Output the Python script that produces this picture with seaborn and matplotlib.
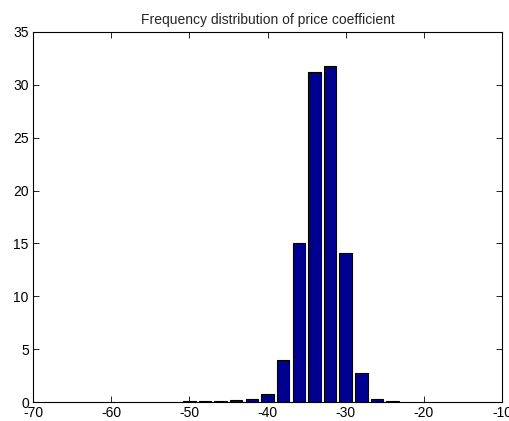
import matplotlib
matplotlib.use("Agg")
import matplotlib.pyplot as plt
import seaborn as sns
import pandas as pd

# Data
bin_centers = [-50, -48, -46, -44, -42, -40, -38, -36, -34, -32, -30, -28, -26, -24]
frequencies = [0.1, 0.1, 0.1, 0.2, 0.3, 0.8, 4.0, 15.0, 31.2, 31.8, 14.1, 2.7, 0.3, 0.1]
x_ticks = [-70, -60, -50, -40, -30, -20, -10]
y_ticks = [0, 5, 10, 15, 20, 25, 30, 35]
title = "Frequency distribution of price coefficient"

sns.set_style("white")
plt.rcParams['font.family'] = ['Liberation Sans', 'DejaVu Sans']

df = pd.DataFrame({"center": bin_centers, "freq": frequencies})

fig = plt.figure(figsize=(5.09, 4.21), dpi=100)
ax = fig.add_axes([33/509, 1 - 402/421, (502-33)/509, (402-32)/421])

sns.barplot(data=df, x="center", y="freq", native_scale=True, orient="x",
            width=0.8, color="#000090", saturation=1, edgecolor="black",
            linewidth=0.8, ax=ax)

ax.set_xlim(-70, -10)
ax.set_ylim(0, 35)
ax.set_xticks(x_ticks)
ax.set_yticks(y_ticks)
ax.set_xticklabels([str(v) for v in x_ticks])
ax.set_yticklabels([str(v) for v in y_ticks])
ax.set_xlabel("")
ax.set_ylabel("")
ax.set_title(title, fontsize=10, pad=6)

for s in ax.spines.values():
    s.set_visible(True)
    s.set_color("black")
    s.set_linewidth(0.8)

ax.tick_params(axis="both", which="both", direction="in", length=4, width=0.6,
               top=True, right=True, bottom=True, left=True,
               labelsize=10, colors="black")
ax.tick_params(axis="x", pad=3)
ax.tick_params(axis="y", pad=3)

fig.savefig("out.png", dpi=100)
